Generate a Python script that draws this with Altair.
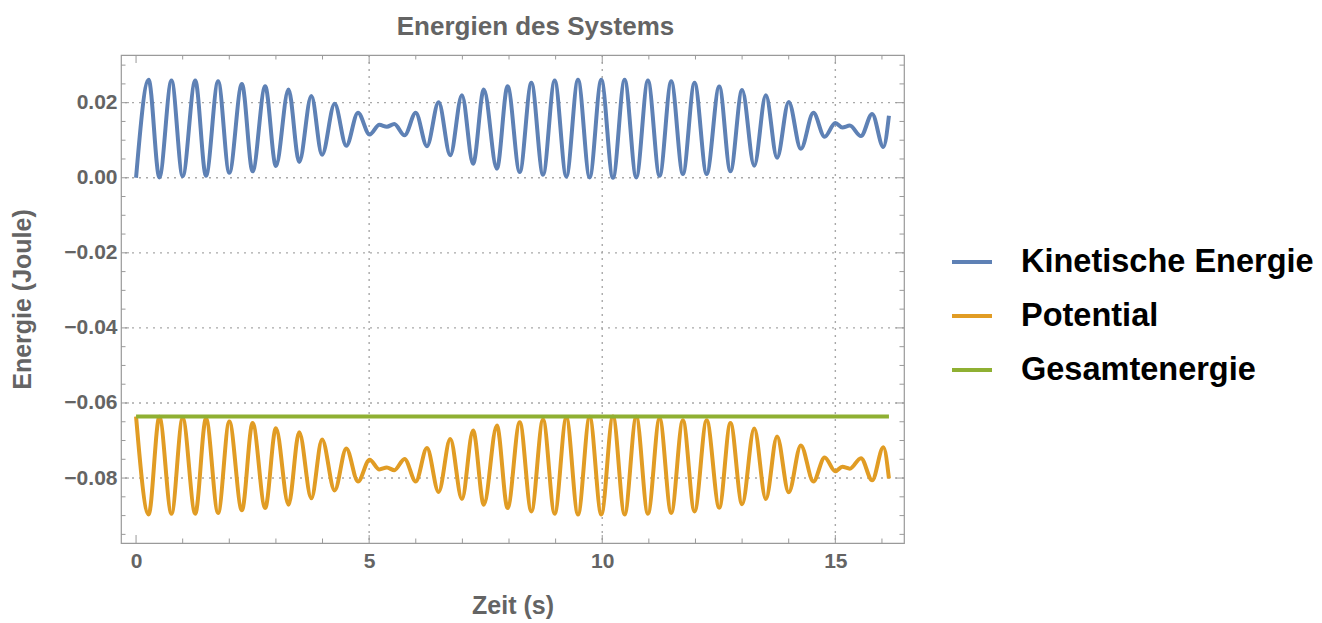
import altair as alt
import pandas as pd

# Energy of an oscillating system: turning points of the kinetic and potential energy
T = [0.00, 0.27, 0.50, 0.76, 1.00, 1.27, 1.50, 1.76, 2.00, 2.27, 2.50, 2.77, 3.00, 3.27,
     3.50, 3.76, 3.99, 4.26, 4.51, 4.76, 5.01, 5.22, 5.38, 5.54, 5.76, 6.00, 6.24, 6.49,
     6.74, 6.99, 7.23, 7.46, 7.74, 7.97, 8.23, 8.48, 8.73, 8.98, 9.23, 9.48, 9.73, 9.98,
     10.23, 10.48, 10.73, 10.98, 11.23, 11.48, 11.73, 11.98, 12.24, 12.51, 12.75, 13.00,
     13.26, 13.51, 13.75, 14.00, 14.26, 14.53, 14.77, 15.00, 15.15, 15.31, 15.55, 15.79,
     16.03, 16.15]

KINETIC = [0.0000, 0.0261, 0.0001, 0.0259, 0.0004, 0.0259, 0.0005, 0.0257, 0.0013, 0.0250,
           0.0017, 0.0244, 0.0031, 0.0235, 0.0042, 0.0218, 0.0061, 0.0197, 0.0085, 0.0173,
           0.0115, 0.0141, 0.0136, 0.0143, 0.0113, 0.0173, 0.0084, 0.0201, 0.0060, 0.0220,
           0.0037, 0.0235, 0.0024, 0.0244, 0.0015, 0.0253, 0.0008, 0.0259, 0.0003, 0.0261,
           0.0001, 0.0261, 0.0000, 0.0261, 0.0001, 0.0259, 0.0005, 0.0257, 0.0010, 0.0253,
           0.0010, 0.0243, 0.0017, 0.0234, 0.0032, 0.0220, 0.0053, 0.0202, 0.0077, 0.0173,
           0.0109, 0.0146, 0.0134, 0.0139, 0.0111, 0.0170, 0.0082, 0.0165]

POTENTIAL = [-0.0636, -0.0897, -0.0637, -0.0895, -0.0640, -0.0895, -0.0641, -0.0893, -0.0649,
             -0.0886, -0.0653, -0.0880, -0.0667, -0.0871, -0.0678, -0.0854, -0.0697, -0.0833,
             -0.0721, -0.0809, -0.0751, -0.0777, -0.0772, -0.0779, -0.0749, -0.0809, -0.0720,
             -0.0837, -0.0696, -0.0856, -0.0673, -0.0871, -0.0660, -0.0880, -0.0651, -0.0889,
             -0.0644, -0.0895, -0.0639, -0.0897, -0.0637, -0.0897, -0.0636, -0.0897, -0.0637,
             -0.0895, -0.0641, -0.0893, -0.0646, -0.0889, -0.0646, -0.0879, -0.0653, -0.0870,
             -0.0668, -0.0856, -0.0689, -0.0838, -0.0713, -0.0809, -0.0745, -0.0782, -0.0770,
             -0.0775, -0.0747, -0.0806, -0.0718, -0.0801]

T_TOTAL = [0.00, 16.15]
TOTAL = [-0.0636, -0.0636]

SERIES = ["Kinetische Energie", "Potential", "Gesamtenergie"]
COLORS = ["#5E81B5", "#E19C24", "#8FB032"]

X_LABELS = [0, 5, 10, 15]
X_MINOR = [1, 2, 3, 4, 6, 7, 8, 9, 11, 12, 13, 14, 16]
X_GRID = [5, 10, 15]
Y_LABELS = [-0.08, -0.06, -0.04, -0.02, 0.00, 0.02]
Y_MINOR = [-0.095, -0.09, -0.085, -0.075, -0.07, -0.065, -0.055, -0.05, -0.045,
           -0.035, -0.03, -0.025, -0.015, -0.01, -0.005, 0.005, 0.01, 0.015, 0.025, 0.03]

W, H = 783, 488
FONT = "Liberation Sans"
TEXT_GRAY = "#646464"
FRAME_GRAY = "#9a9a9a"
GRID_GRAY = "#a8a8a8"
MAJOR_LEN, MINOR_LEN = 8, 4.5

xs = alt.Scale(domain=[-0.323, 16.473], nice=False, zero=False)
ys = alt.Scale(domain=[-0.0973, 0.0327], nice=False, zero=False)

x_axis = alt.Axis(values=X_LABELS, format="d", ticks=False, domain=False, grid=False,
                  labelFont=FONT, labelFontSize=21, labelFontWeight="bold",
                  labelColor=TEXT_GRAY, labelPadding=7,
                  title="Zeit (s)", titleFont=FONT, titleFontSize=25,
                  titleFontWeight="bold", titleColor=TEXT_GRAY, titlePadding=22)
y_axis = alt.Axis(values=Y_LABELS, format=".2f", ticks=False, domain=False, grid=False,
                  labelFont=FONT, labelFontSize=21, labelFontWeight="bold",
                  labelColor=TEXT_GRAY, labelPadding=4,
                  title="Energie (Joule)", titleFont=FONT, titleFontSize=25,
                  titleFontWeight="bold", titleColor=TEXT_GRAY, titlePadding=28)

X = alt.X("t:Q", scale=xs, axis=x_axis)
Y = alt.Y("v:Q", scale=ys, axis=y_axis)

def frame_x(values):
    return pd.DataFrame({"t": values})

def frame_y(values):
    return pd.DataFrame({"v": values})

grid_style = dict(color=GRID_GRAY, strokeWidth=1.4, strokeDash=[2, 5])
tick_style = dict(color=FRAME_GRAY, strokeWidth=1)

layers = [
    alt.Chart(frame_x(X_GRID)).mark_rule(**grid_style).encode(x=X),
    alt.Chart(frame_y(Y_LABELS)).mark_rule(**grid_style).encode(y=Y),
]

# inward frame ticks on all four sides
for vals, length in ((X_LABELS, MAJOR_LEN), (X_MINOR, MINOR_LEN)):
    d = frame_x(vals)
    layers.append(alt.Chart(d).mark_rule(**tick_style).encode(
        x=X, y=alt.value(H), y2=alt.value(H - length)))
    layers.append(alt.Chart(d).mark_rule(**tick_style).encode(
        x=X, y=alt.value(0), y2=alt.value(length)))
for vals, length in ((Y_LABELS, MAJOR_LEN), (Y_MINOR, MINOR_LEN)):
    d = frame_y(vals)
    layers.append(alt.Chart(d).mark_rule(**tick_style).encode(
        y=Y, x=alt.value(0), x2=alt.value(length)))
    layers.append(alt.Chart(d).mark_rule(**tick_style).encode(
        y=Y, x=alt.value(W - length), x2=alt.value(W)))

legend = alt.Legend(orient="none", legendX=829, legendY=185, title=None,
                    symbolType="stroke", symbolSize=1600, symbolStrokeWidth=4,
                    labelFont=FONT, labelFontSize=32.5, labelFontWeight="bold",
                    labelColor="black", labelOffset=27, labelLimit=0,
                    rowPadding=15, padding=0)
color = alt.Color("series:N", scale=alt.Scale(domain=SERIES, range=COLORS), legend=legend)

curves = [
    pd.DataFrame({"t": T, "v": KINETIC, "series": SERIES[0]}),
    pd.DataFrame({"t": T, "v": POTENTIAL, "series": SERIES[1]}),
    pd.DataFrame({"t": T_TOTAL, "v": TOTAL, "series": SERIES[2]}),
]
for d in curves:
    layers.append(alt.Chart(d).mark_line(interpolate="monotone", strokeWidth=4).encode(
        x=X, y=Y, color=color))

chart = alt.layer(*layers).properties(
    width=W, height=H,
    title=alt.TitleParams("Energien des Systems", font=FONT, fontSize=26,
                          fontWeight="bold", color=TEXT_GRAY, anchor="middle",
                          offset=14, dx=23),
    padding={"left": 121, "top": 55, "right": 418, "bottom": 80},
    autosize=alt.AutoSizeParams(type="none"),
).configure_view(stroke=FRAME_GRAY, strokeWidth=1.2)

chart.save("out.html", embed_options={"renderer": "svg", "actions": False})
